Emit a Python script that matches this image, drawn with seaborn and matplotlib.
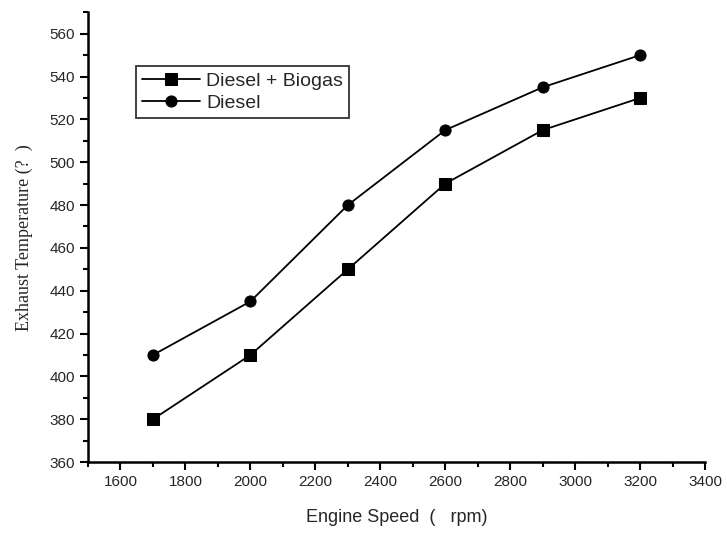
import matplotlib
matplotlib.use("Agg")
import matplotlib.pyplot as plt
from matplotlib.ticker import MultipleLocator
import seaborn as sns
import pandas as pd

engine_speed = [1700, 2000, 2300, 2600, 2900, 3200]
temp_diesel_biogas = [380, 410, 450, 490, 515, 530]
temp_diesel = [410, 435, 480, 515, 535, 550]
series_labels = ["Diesel + Biogas", "Diesel"]

df = pd.DataFrame({
    "speed": engine_speed * 2,
    "temp": temp_diesel_biogas + temp_diesel,
    "fuel": [series_labels[0]] * len(engine_speed) + [series_labels[1]] * len(engine_speed),
})

sns.set_style("ticks")
plt.rcParams["font.family"] = ["Liberation Sans", "DejaVu Sans"]

fig = plt.figure(figsize=(7.27, 5.33), dpi=100)
ax = fig.add_axes([0.121, 0.133, 0.849, 0.844])

sns.lineplot(data=df, x="speed", y="temp", hue="fuel", style="fuel",
             markers={series_labels[0]: "s", series_labels[1]: "o"},
             dashes=False, palette=["black", "black"], markersize=8,
             linewidth=1.3, markeredgecolor="black", ax=ax, legend=True)

ax.set_xlim(1500, 3400)
ax.set_ylim(360, 570)
ax.xaxis.set_minor_locator(MultipleLocator(100))
ax.yaxis.set_major_locator(MultipleLocator(20))
ax.yaxis.set_minor_locator(MultipleLocator(10))
ax.set_xticks(range(1600, 3401, 200))
ax.tick_params(axis="both", which="major", direction="out", length=6, width=1.5,
               labelsize=11, color="black")
ax.tick_params(axis="both", which="minor", direction="out", length=3.5, width=1.5,
               color="black")
for s in ["left", "bottom"]:
    ax.spines[s].set_linewidth(1.8)
    ax.spines[s].set_color("black")
sns.despine(ax=ax)

ax.set_xlabel("Engine Speed  (   rpm)", fontsize=13, labelpad=14)
ax.set_ylabel("Exhaust Temperature (?  )", fontsize=13, family=["Liberation Serif", "DejaVu Serif"],
              labelpad=12)

leg = ax.legend(loc="upper left", bbox_to_anchor=(0.062, 0.902), frameon=True,
                fancybox=False, edgecolor="black", fontsize=14, handlelength=3.0,
                borderpad=0.3, labelspacing=0.25, handletextpad=0.3)
leg.get_frame().set_linewidth(1.3)

fig.savefig("out.png", dpi=100)
